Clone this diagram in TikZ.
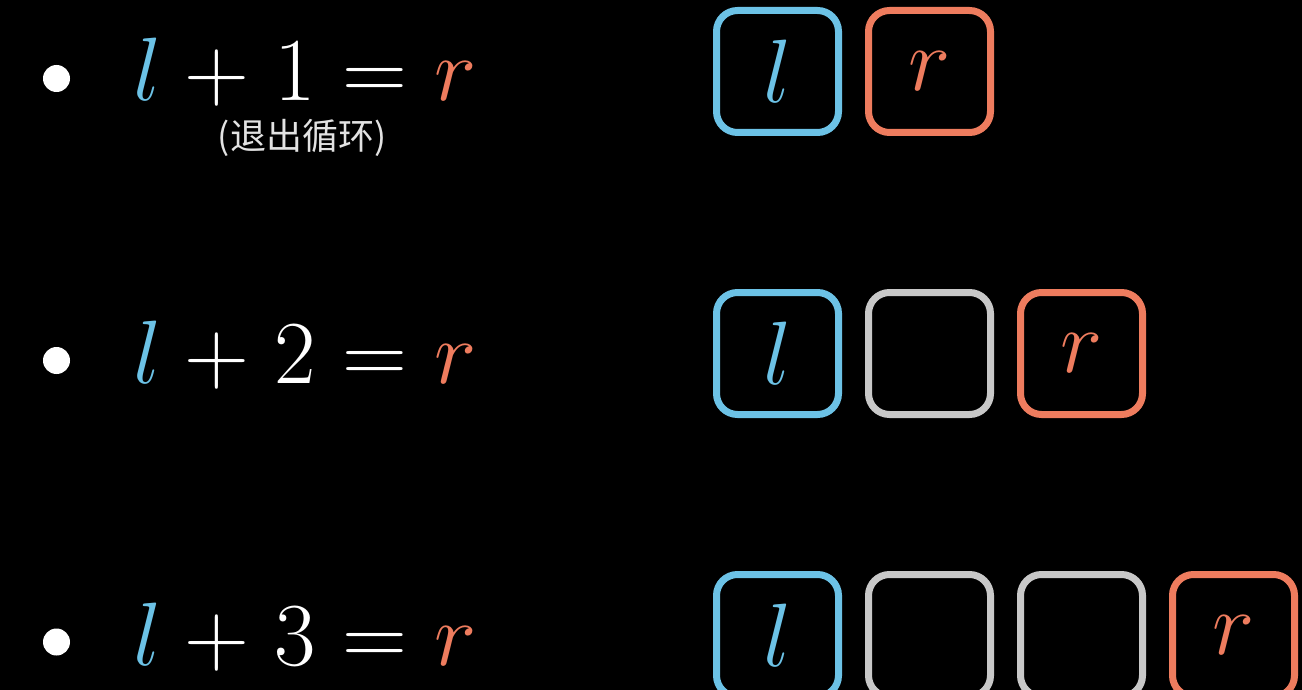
\RequirePackage{fix-cm}
\documentclass[tikz,border=0pt]{standalone}
\usepackage[no-math]{fontspec}
\newfontfamily\cjk{Noto Sans CJK SC}
\definecolor{lblue}{HTML}{6CC2E6}
\definecolor{rred}{HTML}{EE7C5E}
\definecolor{cgray}{HTML}{C8C8C8}
\definecolor{notegray}{HTML}{E2E2E2}
\newcommand{\eqline}[1]{$\textcolor{lblue}{l}\kern23pt{+}\kern25pt#1\kern27pt{=}\kern27pt\textcolor{rred}{r}$}
\begin{document}
\begin{tikzpicture}[x=1pt,y=-1pt,
  cell/.style={draw, line width=7pt, rounded corners=21pt, minimum width=122pt,
    minimum height=122pt, inner sep=0pt, font=\fontsize{90}{100}\selectfont},
  lcell/.style={cell, draw=lblue, text=lblue},
  rcell/.style={cell, draw=rred, text=rred},
  gcell/.style={cell, draw=cgray},
  eq/.style={anchor=base west, inner sep=0pt, text=white, font=\fontsize{90}{100}\selectfont},
  bul/.style={circle, fill=white, minimum size=27pt, inner sep=0pt},
  note/.style={inner sep=0pt, text=notegray, font=\cjk\fontsize{36}{40}\selectfont}]
\path[fill=black, use as bounding box] (0,0) rectangle (1302,690);

% row 1
\node[bul] (b1) at (56.5,78.5) {};
\node[eq] (e1) at (133,101) {\eqline{1}};
\node[note] (n1) at (302,138) {(退出循环)};
\node[lcell] (c11) at (777.5,71.5) {$l$};
\node[rcell] (c12) at (929.5,71.5) {$r$};

% row 2
\node[bul] (b2) at (56.5,360.5) {};
\node[eq] (e2) at (133,383) {\eqline{2}};
\node[lcell] (c21) at (777.5,353.5) {$l$};
\node[gcell] (c22) at (929.5,353.5) {};
\node[rcell] (c23) at (1081.5,353.5) {$r$};

% row 3
\node[bul] (b3) at (56.5,642) {};
\node[eq] (e3) at (133,665) {\eqline{3}};
\node[lcell] (c31) at (777.5,635.5) {$l$};
\node[gcell] (c32) at (929.5,635.5) {};
\node[gcell] (c33) at (1081.5,635.5) {};
\node[rcell] (c34) at (1233.5,635.5) {$r$};
\end{tikzpicture}
\end{document}
